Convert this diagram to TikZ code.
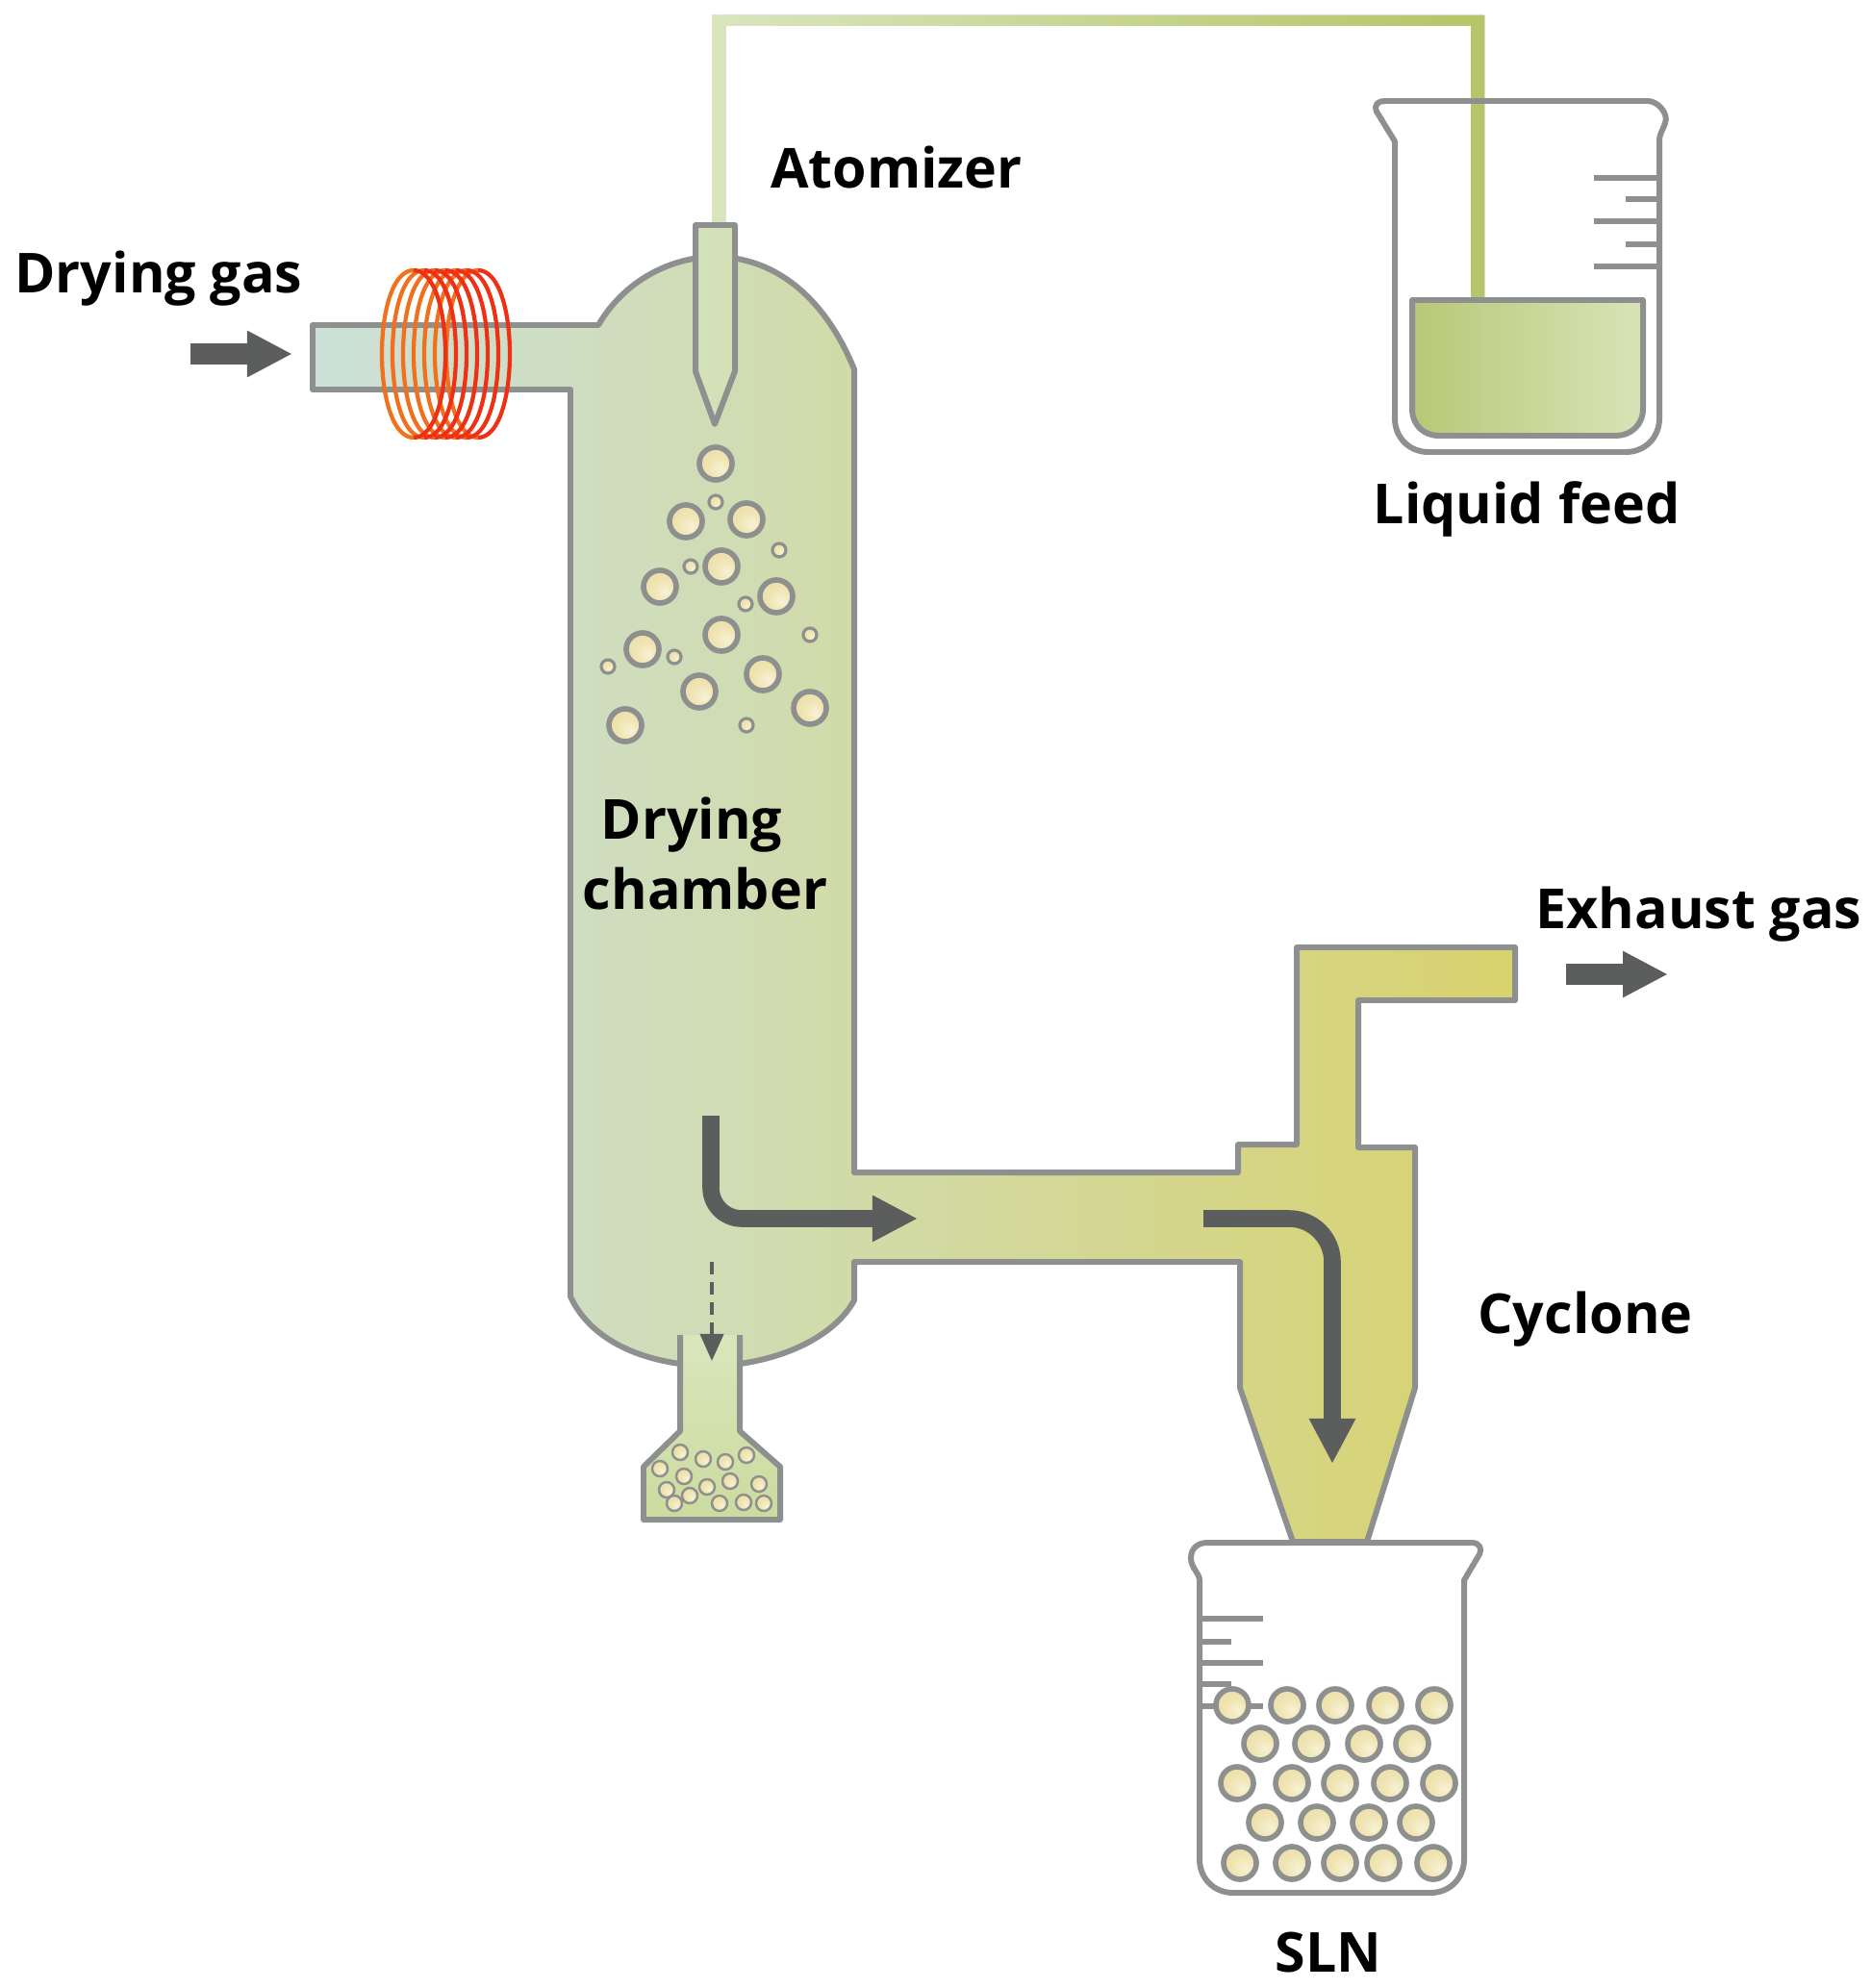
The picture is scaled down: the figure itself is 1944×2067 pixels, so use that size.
\documentclass[tikz,border=0pt]{standalone}
\usepackage{fontspec}
\setmainfont{Open Sans}
\usetikzlibrary{arrows.meta,positioning}
\definecolor{wallgray}{HTML}{8E9090}
\definecolor{flowgray}{HTML}{5C5E5E}
\definecolor{coilorange}{HTML}{F0701E}
\definecolor{coilred}{HTML}{EE3014}
\pgfdeclareradialshading{dropshade}{\pgfpoint{9bp}{-9bp}}{rgb(0bp)=(0.97,0.95,0.84); rgb(16bp)=(0.94,0.90,0.71); rgb(40bp)=(0.91,0.86,0.62); rgb(50bp)=(0.91,0.86,0.62)}

\begin{document}
\begin{tikzpicture}[
	x=0.01cm,
	y=-0.01cm,
	wall/.style={
		draw=wallgray,
		line width=1.7pt,
		line join=round
	},
	bigdrop/.style={
		circle,
		draw=wallgray,
		line width=1.6pt,
		shade,
		shading=dropshade,
		inner sep=0pt,
		minimum size=0.34cm
	},
	smalldrop/.style={
		bigdrop,
		line width=0.9pt,
		minimum size=0.14cm
	},
	flow/.style={
		draw=flowgray,
		line width=5pt,
		-{Triangle[length=0.47cm,width=0.45cm]}
	},
	tag/.style={
		font=\fontsize{16.3}{19}\selectfont\bfseries,
		inner sep=0pt
	}]

	% feed line
	\fill[left color={rgb,255:red,217;green,229;blue,190}, right color={rgb,255:red,181;green,197;blue,102}]
		(740,234) -- (740,16) -- (1543,16) -- (1543,312) -- (1529,312) -- (1529,27) -- (754,27) -- (754,234) -- cycle;

	% chamber, duct and cyclone
	\draw[wall, left color={rgb,255:red,204;green,225;blue,216}, middle color={rgb,255:red,215;green,221;blue,170}, right color={rgb,255:red,216;green,210;blue,110}]
		(325,338) -- (622,338) .. controls (650,290) and (700,267) .. (743,267)
		.. controls (810,267) and (860,315) .. (888,384)
		-- (888,1219) -- (1287,1219) -- (1287,1190) -- (1348,1190) -- (1348,985) -- (1575,985) -- (1575,1040) -- (1412,1040)
		-- (1412,1193) -- (1471,1193) -- (1471,1443) -- (1421,1603) -- (1344,1603) -- (1289,1443) -- (1289,1312) -- (888,1312)
		-- (888,1352) .. controls (870,1385) and (825,1410) .. (769,1418) -- (707,1418)
		.. controls (650,1410) and (610,1385) .. (593,1348)
		-- (593,405) -- (325,405) -- cycle;

	% nozzle
	\draw[wall, left color={rgb,255:red,212;green,226;blue,186}, middle color={rgb,255:red,222;green,234;blue,194}, right color={rgb,255:red,212;green,224;blue,182}]
		(723,234) -- (764,234) -- (764,386) -- (743,441) -- (723,386) -- cycle;

	% heating coil
	\foreach \x [count=\i] in {430,441,452,463,474,485,497}
		\draw[line width=1.2pt, coilorange]
			(\x,281) .. controls (\x-44,281) and (\x-44,455) .. (\x,455);
	\foreach \x [count=\i] in {430,441,452,463,474,485,497}
		\draw[line width=1.2pt, coilred]
			(\x,281) .. controls (\x+44,281) and (\x+44,455) .. (\x,455);

	% collector under the chamber
	\draw[wall, top color={rgb,255:red,217;green,230;blue,188}, bottom color={rgb,255:red,204;green,219;blue,158}]
		(707,1388) -- (707,1488) -- (669,1525) -- (669,1580) -- (811,1580) -- (811,1525) -- (769,1488) -- (769,1388);
	\foreach \x/\y [count=\i] in {707/1510,731/1517,754/1520,776/1513,686/1527,711/1535,735/1546,759/1540,789/1543,693/1549,717/1555,701/1563,748/1563,773/1562,794/1563}
		\node[smalldrop, line width=0.7pt, minimum size=0.16cm] (rest\i) at (\x,\y) {};

	% droplets in the chamber
	\foreach \x/\y [count=\i] in {744/482,713/542,776/540,750/589,686/610,807/620,750/660,668/675,793/701,727/719,842/736,650/754}
		\node[bigdrop] (big\i) at (\x,\y) {};
	\foreach \x/\y [count=\i] in {744/522,810/572,718/589,775/628,842/660,701/683,632/693,776/754}
		\node[smalldrop] (small\i) at (\x,\y) {};

	% feed beaker
	\draw[wall]
		(1450,147) -- (1431,116) .. controls (1428,108) and (1433,105) .. (1440,105) -- (1713,105)
		.. controls (1723,105) and (1735,118) .. (1731,128) .. controls (1729,135) and (1725,138) .. (1725,147)
		-- (1725,435) .. controls (1725,455) and (1710,470) .. (1690,470) -- (1485,470)
		.. controls (1465,470) and (1450,455) .. (1450,435) -- cycle;
	\draw[wall, left color={rgb,255:red,184;green,200;blue,118}, right color={rgb,255:red,216;green,228;blue,184}]
		(1468,312) -- (1708,312) -- (1708,425) .. controls (1708,442) and (1695,453) .. (1680,453) -- (1496,453)
		.. controls (1480,453) and (1468,442) .. (1468,425) -- cycle;
	\foreach \y/\x in {185/1657,207/1690,230/1657,254/1690,277/1657}
		\draw[wall] (1725,\y) -- (\x,\y);

	% product beaker
	\draw[wall]
		(1247,1643) .. controls (1247,1636) and (1238,1630) .. (1238,1620) .. controls (1238,1610) and (1245,1604) .. (1255,1604)
		-- (1530,1604) .. controls (1538,1604) and (1541,1610) .. (1538,1616) -- (1522,1643)
		-- (1522,1933) .. controls (1522,1953) and (1507,1968) .. (1487,1968) -- (1282,1968)
		.. controls (1262,1968) and (1247,1953) .. (1247,1933) -- cycle;
	\foreach \y/\x in {1683/1313,1707/1280,1729/1313,1751/1280,1774/1313}
		\draw[wall] (1247,\y) -- (\x,\y);
	\foreach \x/\y [count=\i] in {1281/1773,1338/1773,1388/1773,1440/1773,1491/1773,1310/1813,1363/1813,1418/1813,1468/1813,1286/1854,1343/1854,1393/1854,1445/1854,1496/1854,1315/1895,1369/1895,1423/1895,1472/1895,1289/1937,1343/1937,1393/1937,1438/1937,1490/1937}
		\node[bigdrop] (sln\i) at (\x,\y) {};

	% flow arrows
	\coordinate (gas_a) at (198,368);
	\coordinate (gas_b) at (304,368);
	\coordinate (out_a) at (1628,1013);
	\coordinate (out_b) at (1734,1013);
	\coordinate (turn_a) at (739,1160);
	\coordinate (turn_b) at (954,1267);
	\coordinate (cyc_a) at (1251,1267);
	\coordinate (cyc_b) at (1385,1522);
	\coordinate (fall_a) at (740,1312);
	\coordinate (fall_b) at (740,1415);
	\draw[flow, line width=6pt] (gas_a) -- (gas_b);
	\draw[flow, line width=6pt] (out_a) -- (out_b);
	\draw[flow, rounded corners=0.32cm] (turn_a) |- (turn_b);
	\draw[flow, rounded corners=0.45cm] (cyc_a) -| (cyc_b);
	\draw[draw=flowgray, line width=1.1pt, dash pattern=on 3.7pt off 2.3pt, -{Triangle[length=0.28cm,width=0.24cm]}] (fall_a) -- (fall_b);

	% labels
	\node[tag] (drygas) at (165,290) {Drying gas};
	\node[tag] (atom) at (932,174) {Atomizer};
	\node[tag] (feed) at (1587,529) {Liquid feed};
	\node[tag] (dry1) at (719,858) {Drying};
	\node[tag] (dry2) at (733,924) {chamber};
	\node[tag] (exhaust) at (1766,951) {Exhaust gas};
	\node[tag] (cyclone) at (1648,1372) {Cyclone};
	\node[tag] (sln) at (1381,2030) {SLN};

	\useasboundingbox (0,0) rectangle (1944,2067);
\end{tikzpicture}
\end{document}
